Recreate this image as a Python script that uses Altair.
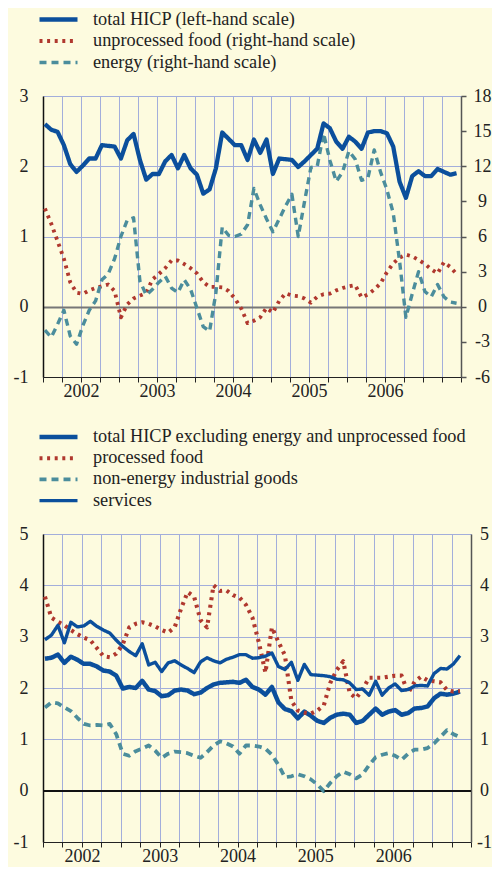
import altair as alt
import pandas as pd

FONT = "Liberation Serif"
BG = "#fdfbdf"
GRID = "#a3aedb"
BLUE = "#0b4f9c"
RED = "#b0382e"
TEAL = "#4b8d9c"
TXT = "#222222"
AX_FS = 18
LEG_FS = 18.3

# ---------------- data (monthly, Jan 2002 onwards) ----------------
top_series = [
    "total HICP (left-hand scale)",
    "unprocessed food (right-hand scale)",
    "energy (right-hand scale)",
]
bottom_series = [
    "total HICP excluding energy and unprocessed food",
    "processed food",
    "non-energy industrial goods",
    "services",
]

hicp = [2.60, 2.52, 2.49, 2.30, 2.03, 1.92, 2.01, 2.11, 2.11, 2.30, 2.29, 2.28,
        2.11, 2.37, 2.46, 2.09, 1.81, 1.89, 1.89, 2.07, 2.16, 1.97, 2.16, 1.97,
        1.88, 1.61, 1.67, 1.97, 2.48, 2.39, 2.30, 2.30, 2.09, 2.38, 2.19, 2.38,
        1.89, 2.11, 2.10, 2.09, 1.99, 2.07, 2.16, 2.25, 2.61, 2.54, 2.35, 2.25,
        2.42, 2.35, 2.25, 2.48, 2.50, 2.50, 2.47, 2.28, 1.78, 1.55, 1.86, 1.93,
        1.86, 1.86, 1.96, 1.92, 1.88, 1.90]
unprocessed_food = [8.4, 7.1, 5.6, 4.1, 2.1, 1.2, 1.1, 1.4, 1.6, 1.75, 1.9, 1.35,
                    -0.9, 0.2, 0.7, 0.95, 1.2, 2.35, 2.8, 3.3, 3.95, 3.95, 3.65, 3.3,
                    2.85, 2.1, 1.7, 1.7, 1.65, 1.35, 0.7, -0.15, -1.4, -1.2, -0.9, -0.1,
                    -0.5, 0.5, 1.15, 0.95, 0.9, 0.7, 0.35, 0.85, 1.07, 1.12, 1.4, 1.6,
                    1.75, 1.85, 0.8, 1.05, 1.46, 2.0, 2.95, 3.7, 4.2, 4.45, 4.3, 4.0,
                    3.65, 3.2, 2.85, 3.8, 3.4, 2.8]
energy = [-2.0, -2.6, -1.5, -0.3, -2.5, -3.2, -1.6, -0.3, 0.5, 2.3, 2.8, 4.1,
          6.0, 7.4, 7.6, 2.2, 1.0, 1.5, 2.1, 2.6, 1.6, 1.2, 2.3, 1.5,
          -0.1, -1.7, -2.1, 1.2, 6.8, 6.1, 6.0, 6.2, 7.0, 10.1, 8.7, 7.5,
          6.4, 7.5, 8.6, 9.6, 6.0, 9.0, 11.9, 12.0, 14.8, 12.5, 10.7, 11.5,
          13.3, 12.6, 10.8, 11.0, 13.4, 11.5, 10.0, 8.0, 3.9, -0.9, 1.1, 3.0,
          1.3, 0.85, 1.9, 0.85, 0.4, 0.3]

hicp_ex = [2.57, 2.59, 2.65, 2.49, 2.61, 2.55, 2.47, 2.47, 2.42, 2.34, 2.32, 2.24,
           1.99, 2.02, 2.00, 2.14, 1.97, 1.94, 1.84, 1.86, 1.95, 1.97, 1.95, 1.88,
           1.91, 2.00, 2.07, 2.10, 2.11, 2.12, 2.10, 2.16, 2.02, 1.97, 1.87, 2.02,
           1.72, 1.59, 1.55, 1.41, 1.54, 1.46, 1.36, 1.32, 1.42, 1.48, 1.50, 1.48,
           1.32, 1.36, 1.48, 1.60, 1.48, 1.54, 1.57, 1.48, 1.51, 1.60, 1.61, 1.64,
           1.80, 1.89, 1.87, 1.89, 1.93]
processed_food = [3.78, 3.37, 3.29, 3.22, 3.13, 3.05, 2.98, 2.93, 2.78, 2.62, 2.60, 2.67,
                  2.85, 3.18, 3.25, 3.28, 3.25, 3.20, 3.13, 3.08, 3.18, 3.55, 3.87, 3.78,
                  3.32, 3.18, 4.00, 3.89, 3.90, 3.81, 3.76, 3.62, 3.37, 2.88, 2.30, 3.18,
                  2.90, 2.64, 1.75, 1.56, 1.52, 1.50, 1.56, 1.66, 2.10, 2.35, 2.52, 1.90,
                  1.80, 1.98, 2.20, 2.20, 2.20, 2.22, 2.24, 2.24, 1.90, 2.12, 2.22, 2.15,
                  2.13, 2.11, 1.96, 1.93, 1.94]
non_energy_goods = [1.62, 1.72, 1.70, 1.62, 1.55, 1.42, 1.30, 1.27, 1.28, 1.27, 1.30, 1.10,
                    0.72, 0.68, 0.77, 0.82, 0.88, 0.78, 0.64, 0.72, 0.76, 0.75, 0.73, 0.68,
                    0.64, 0.75, 0.88, 0.96, 0.92, 0.86, 0.72, 0.88, 0.88, 0.86, 0.82, 0.70,
                    0.50, 0.26, 0.28, 0.32, 0.28, 0.22, 0.12, -0.01, 0.15, 0.28, 0.37, 0.32,
                    0.24, 0.32, 0.50, 0.65, 0.70, 0.73, 0.68, 0.60, 0.72, 0.80, 0.80, 0.83,
                    0.92, 1.05, 1.18, 1.10, 1.04]
services = [2.94, 3.03, 3.22, 2.88, 3.28, 3.19, 3.21, 3.30, 3.20, 3.13, 3.07, 2.93,
            2.81, 2.71, 2.63, 2.86, 2.45, 2.50, 2.32, 2.49, 2.53, 2.45, 2.38, 2.30,
            2.51, 2.59, 2.53, 2.49, 2.56, 2.60, 2.65, 2.65, 2.58, 2.59, 2.62, 2.68,
            2.42, 2.36, 2.50, 2.15, 2.46, 2.26, 2.25, 2.24, 2.22, 2.17, 2.16, 2.10,
            1.97, 1.98, 1.86, 2.13, 1.86, 2.00, 2.08, 1.95, 1.97, 2.04, 2.05, 2.04,
            2.28, 2.38, 2.37, 2.47, 2.63]

left_ticks_top = [-1, 0, 1, 2, 3]
right_ticks_top = [-6, -3, 0, 3, 6, 9, 12, 15, 18]
ticks_bottom = [-1, 0, 1, 2, 3, 4, 5]
quarter_ticks = list(range(0, 67, 3))
first_year = 2002

# ---------------- tables ----------------
top_df = pd.DataFrame({"month": range(len(hicp)),
                       top_series[0]: hicp,
                       top_series[1]: unprocessed_food,
                       top_series[2]: energy}).melt("month", var_name="series", value_name="value")
bot_df = pd.DataFrame({"month": range(len(hicp_ex)),
                       bottom_series[0]: hicp_ex,
                       bottom_series[1]: processed_food,
                       bottom_series[2]: non_energy_goods,
                       bottom_series[3]: services}).melt("month", var_name="series2", value_name="value")

LABEL_EXPR = ("datum.value % 12 == 6 && datum.value < 66 ? '' + (" + str(first_year)
              + " + floor(datum.value / 12)) : ''")
NUM_EXPR = "datum.value < 0 ? '-' + abs(datum.value) : '' + datum.value"

DOT = [3, 4.6]
DASH = [7, 5]


def x_enc():
    return alt.X("t:Q",
                 scale=alt.Scale(domain=[0, 66], nice=False, zero=False),
                 axis=alt.Axis(values=quarter_ticks, labelExpr=LABEL_EXPR, grid=True,
                               gridColor=GRID, gridWidth=1, domain=True, domainColor="#222",
                               domainWidth=1, ticks=True, tickColor="#222", tickSize=5,
                               labelPadding=0, labelFont=FONT, labelFontSize=AX_FS, labelColor=TXT,
                               labelOverlap=False, labelFlush=False, labelAngle=0, title=None))


def make_legend(y_off, rows_pad):
    return alt.Legend(orient="none", legendX=-6, legendY=y_off, title=None,
                      symbolType="stroke", symbolSize=1444, labelOffset=13,
                      labelFont=FONT, labelFontSize=LEG_FS, labelColor=TXT,
                      clipHeight=20, rowPadding=rows_pad, labelLimit=480)


# ---------------- top panel ----------------
leg_top = make_legend(-86.5, 1.5)
col_top = alt.Color("series:N", scale=alt.Scale(domain=top_series, range=[BLUE, RED, TEAL]), legend=leg_top)
dash_top = alt.StrokeDash("series:N", scale=alt.Scale(domain=top_series, range=[[1, 0], DOT, DASH]), legend=leg_top)
sw_top = alt.StrokeWidth("series:N", scale=alt.Scale(domain=top_series, range=[4.3, 3.4, 3.8]), legend=leg_top)

top_base = alt.Chart(top_df).transform_calculate(t="datum.month + 0.3")

top_right = top_base.transform_filter(alt.datum.series != top_series[0]).mark_line(
    strokeJoin="round").encode(
    x=x_enc(),
    y=alt.Y("value:Q", scale=alt.Scale(domain=[-6, 18], nice=False, zero=False),
            axis=alt.Axis(orient="right", values=right_ticks_top, grid=False, domainColor="#555",
                          domainWidth=1.5, tickColor="#555", tickSize=5, tickWidth=1.5,
                          labelPadding=16, labelAlign="center", labelExpr=NUM_EXPR, labelFont=FONT,
                          labelFontSize=AX_FS, labelColor=TXT, labelFlush=False, title=None)),
    color=col_top, strokeDash=dash_top, strokeWidth=sw_top, order="month:Q")

top_left = top_base.transform_filter(alt.datum.series == top_series[0]).mark_line(
    strokeJoin="round").encode(
    x=x_enc(),
    y=alt.Y("value:Q", scale=alt.Scale(domain=[-1, 3], nice=False, zero=False),
            axis=alt.Axis(orient="left", values=left_ticks_top, grid=True,
                          gridColor={"condition": {"test": "datum.value === 0", "value": "#777777"}, "value": GRID},
                          gridWidth={"condition": {"test": "datum.value === 0", "value": 2.2}, "value": 1},
                          domainColor="#111", domainWidth=1.5, ticks=False, labelPadding=15,
                          labelExpr=NUM_EXPR, labelFont=FONT, labelFontSize=AX_FS, labelColor=TXT,
                          labelFlush=False, title=None)),
    color=col_top, strokeDash=dash_top, strokeWidth=sw_top, order="month:Q")

top = alt.layer(top_right, top_left).resolve_scale(y="independent").properties(width=418, height=281)

# ---------------- bottom panel ----------------
leg_bot = make_legend(-107, 1.2)
col_bot = alt.Color("series2:N", scale=alt.Scale(domain=bottom_series, range=[BLUE, RED, TEAL, BLUE]), legend=leg_bot)
dash_bot = alt.StrokeDash("series2:N", scale=alt.Scale(domain=bottom_series, range=[[1, 0], DOT, DASH, [1, 0]]), legend=leg_bot)
sw_bot = alt.StrokeWidth("series2:N", scale=alt.Scale(domain=bottom_series, range=[4.5, 3.4, 4.0, 2.2]), legend=leg_bot)

bot_lines = alt.Chart(bot_df).transform_calculate(t="datum.month + 0.3").mark_line(
    strokeJoin="round").encode(
    x=x_enc(),
    y=alt.Y("value:Q", scale=alt.Scale(domain=[-1, 5], nice=False, zero=False),
            axis=alt.Axis(orient="left", values=ticks_bottom, grid=True, gridColor=GRID, gridWidth=1,
                          domainColor="#111", domainWidth=1.5, ticks=False, labelPadding=15,
                          labelExpr=NUM_EXPR, labelFont=FONT, labelFontSize=AX_FS, labelColor=TXT,
                          labelFlush=False, title=None)),
    color=col_bot, strokeDash=dash_bot, strokeWidth=sw_bot, order="month:Q")

zero_rule = alt.Chart(bot_df).mark_rule(color="#111", strokeWidth=1.5).encode(
    y=alt.Y(datum=0, type="quantitative",
            scale=alt.Scale(domain=[-1, 5], nice=False, zero=False),
            axis=alt.Axis(orient="right", values=ticks_bottom, grid=False, domainColor="#555",
                          domainWidth=1.5, ticks=False, labelPadding=13, labelAlign="center",
                          labelExpr=NUM_EXPR, labelFont=FONT, labelFontSize=AX_FS, labelColor=TXT,
                          labelFlush=False, title=None)))

bottom = alt.layer(zero_rule, bot_lines).resolve_scale(y="independent").properties(width=428, height=308)

chart = alt.vconcat(top, bottom, spacing=157, bounds="flush").resolve_scale(
    color="independent", strokeDash="independent", strokeWidth="independent").resolve_legend(
    color="independent", strokeDash="independent", strokeWidth="independent").properties(
    padding={"left": 5, "top": 1, "right": 0, "bottom": 2}, background=BG).configure_view(
    strokeOpacity=0).configure_axis(labelFont=FONT)

chart.save("out.html", embed_options={"renderer": "svg", "actions": False})
